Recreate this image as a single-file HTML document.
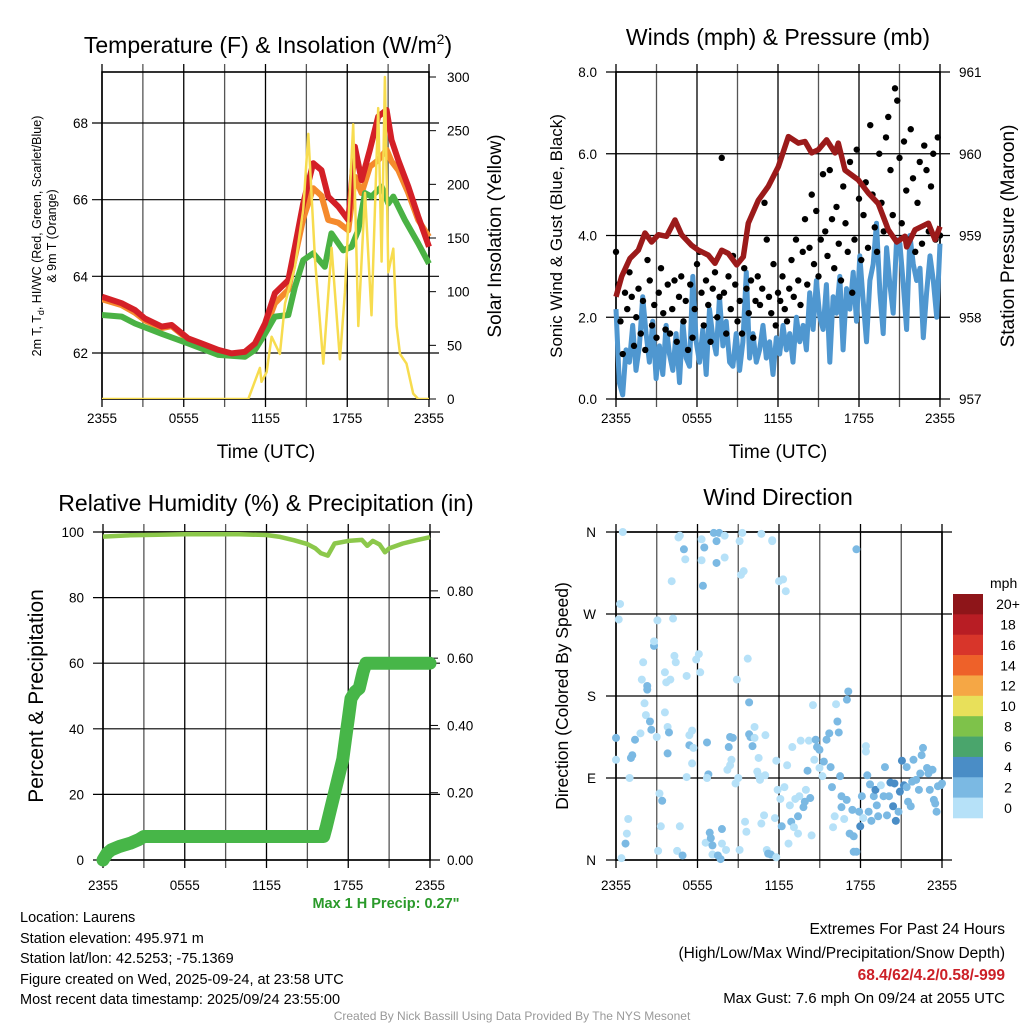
<!DOCTYPE html>
<html><head><meta charset="utf-8"><style>
html,body{margin:0;padding:0;background:#fff;}
svg{display:block;font-family:"Liberation Sans",sans-serif;}
</style></head><body>
<svg id="fig" width="1024" height="1024" viewBox="0 0 1024 1024">
<g font-size="23" text-anchor="middle" fill="#000">
<text x="268" y="53">Temperature (F) &amp; Insolation (W/m<tspan font-size="14" dy="-9">2</tspan><tspan dy="9">)</tspan></text>
<text x="778" y="45">Winds (mph) &amp; Pressure (mb)</text>
<text x="266" y="511">Relative Humidity (%) &amp; Precipitation (in)</text>
<text x="778" y="505">Wind Direction</text>
</g>
<g fill="#000" text-anchor="middle">
<text x="266" y="458" font-size="19">Time (UTC)</text>
<text x="778" y="458" font-size="19">Time (UTC)</text>
<text transform="translate(41,236) rotate(-90)" font-size="12.5">2m T, T<tspan font-size="9" dy="3">d</tspan><tspan dy="-3">, HI/WC (Red, Green, Scarlet/Blue)</tspan></text>
<text transform="translate(56,236) rotate(-90)" font-size="12.5">&amp; 9m T (Orange)</text>
<text transform="translate(501,236) rotate(-90)" font-size="19">Solar Insolation (Yellow)</text>
<text transform="translate(562,236) rotate(-90)" font-size="17">Sonic Wind &amp; Gust (Blue, Black)</text>
<text transform="translate(1014,236) rotate(-90)" font-size="19">Station Pressure (Maroon)</text>
<text transform="translate(43,696) rotate(-90)" font-size="21">Percent &amp; Precipitation</text>
<text transform="translate(568,696) rotate(-90)" font-size="17.5">Direction (Colored By Speed)</text>
</g>
<g id="plots"></g>
<g font-size="14.5" fill="#000">
<text x="386" y="908" font-weight="bold" fill="#2a9a2a" text-anchor="middle">Max 1 H Precip: 0.27"</text>
<text x="20" y="922">Location: Laurens</text>
<text x="20" y="943">Station elevation: 495.971 m</text>
<text x="20" y="963">Station lat/lon: 42.5253; -75.1369</text>
<text x="20" y="984">Figure created on Wed, 2025-09-24, at 23:58 UTC</text>
<text x="20" y="1004">Most recent data timestamp: 2025/09/24 23:55:00</text>
<text x="1005" y="934" font-size="15.5" text-anchor="end">Extremes For Past 24 Hours</text>
<text x="1005" y="958" font-size="15.5" text-anchor="end">(High/Low/Max Wind/Precipitation/Snow Depth)</text>
<text x="1005" y="980" font-size="15.5" font-weight="bold" fill="#cc2027" text-anchor="end">68.4/62/4.2/0.58/-999</text>
<text x="1005" y="1003" font-size="15" text-anchor="end">Max Gust: 7.6 mph On 09/24 at 2055 UTC</text>
<text x="512" y="1020" font-size="12" fill="#999" text-anchor="middle">Created By Nick Bassill Using Data Provided By The NYS Mesonet</text>
</g>
</svg>
<script>
// ---------- data ----------
const xTickLabels = ["2355","0555","1155","1755","2355"];
const tempTicks = [62,64,66,68];
const solarTicks = [0,50,100,150,200,250,300];
const windTicks = [0,2,4,6,8];
const windTickLabels = ["0.0","2.0","4.0","6.0","8.0"];
const presTicks = [957,958,959,960,961];
const rhTicks = [0,20,40,60,80,100];
const precipTicks = [0,0.2,0.4,0.6,0.8];
const precipTickLabels = ["0.00","0.20","0.40","0.60","0.80"];
const dirTicks = [0,90,180,270,360];
const dirTickLabels = ["N","E","S","W","N"];
const legendLabels = ["20+","18","16","14","12","10","8","6","4","2","0"];
const legendColors = ["#8e1519","#b81d24","#d8352a","#ee6129","#f5a745","#e8e05a","#7ec24a","#4aa56c","#4a8dc6","#7bb9e3","#b6e1f8"];

const tHours = [0,1.44,2.42,3.15,4.38,5.11,6.33,7.31,8.54,9.51,10.49,11.23,11.96,12.69,13.67,14.16,14.77,15.5,16.11,16.6,17.34,18.08,18.56,19.05,19.66,20.27,20.89,21.25,21.75,22.48,23.21,24];
const tempRed = [63.47,63.3,63.12,62.9,62.69,62.73,62.38,62.25,62.08,61.99,62.03,62.25,62.77,63.56,63.9,64.77,65.9,66.95,66.77,66.08,65.82,65.47,67.38,66.51,67.3,68.17,68.34,67.56,67.03,66.34,65.56,64.77];
const tempOrange = [63.4,63.25,63.05,62.85,62.65,62.7,62.35,62.2,62.05,61.97,62.0,62.15,62.6,63.3,63.65,64.5,65.5,66.3,66.1,65.47,65.4,65.2,66.6,66.17,66.86,67.03,67.3,67.0,66.77,66.17,65.47,65.03];
const gHours = [0,1.44,2.42,4.38,6.33,8.54,10.49,11.23,11.96,12.69,13.67,14.16,14.77,15.5,16.35,16.84,17.7,18.32,18.81,19.3,19.78,20.52,21.01,21.38,22.23,23.21,24];
const tempGreen = [62.99,62.95,62.77,62.5,62.25,61.95,61.9,62.08,62.5,62.95,62.99,63.72,64.42,64.6,64.25,65.12,64.68,64.77,65.21,66.17,66.08,66.34,65.9,66.08,65.47,64.86,64.33];
const sHours = [0,10.74,11.59,11.71,12.08,12.45,13.06,13.43,14.16,14.77,15.14,15.63,16.24,16.85,17.46,17.83,18.44,18.81,19.3,19.78,20.27,20.52,20.76,21.01,21.38,21.62,21.87,22.35,22.84,23.21,24];
const solar = [0,0,29,16,25,58,42,89,123,176,247,130,33,141,37,99,256,68,192,78,271,128,300,118,140,68,42,33,5,0,0];

const pHours = [0,0.42,1.04,1.65,2.15,2.64,3.14,3.75,4.37,4.86,5.59,6.1,6.84,7.33,7.83,8.32,8.94,9.43,9.8,10.54,11.28,12.02,12.77,13.51,14,14.49,14.99,15.6,16.22,16.47,16.96,17.95,18.69,19.43,20.17,20.79,21.41,21.53,22.15,23.14,23.63,24];
const pressure = [958.25,958.5,958.72,958.82,959.03,958.92,959.01,958.99,959.19,959.01,958.88,958.82,958.76,958.66,958.82,958.78,958.64,958.74,959.15,959.43,959.6,959.84,960.21,960.13,960.15,960.01,960.05,960.17,960.01,960.13,959.8,959.68,959.52,959.39,959.07,958.92,958.99,958.86,959.07,959.15,958.95,959.11];
const windSpeed = [2.2,0.4,0.1,1.2,0.9,1.8,0.7,1.3,2.5,1.6,0.9,1.9,0.5,
1.3,0.6,1.8,1.1,0.7,1.6,0.4,1.9,1.0,0.8,3.0,1.4,
0.9,1.7,0.6,2.2,1.5,1.1,2.5,1.3,1.9,0.9,0.8,1.6,
0.7,1.4,3.1,1.0,1.6,0.9,1.2,1.8,1.0,1.4,0.6,1.5,
1.1,1.8,1.2,1.6,0.9,2.0,1.4,1.8,1.2,2.6,1.7,2.9,
2.0,1.7,2.8,0.9,2.5,2.1,3.0,1.2,2.7,2.2,3.1,1.9,
3.5,2.4,1.4,2.9,3.3,4.3,2.6,1.6,3.7,2.8,2.1,3.9,
3.8,2.8,1.7,4.0,3.3,2.9,3.2,1.5,2.6,3.5,2.9,2.0,3.8];
const windGust = [3.6,2.8,1.9,1.1,2.6,2.2,3.1,2.5,1.3,2.0,2.7,1.6,2.4,1.2,3.4,2.9,1.8,2.3,1.5,2.6,3.2,2.1,1.7,2.8,
1.6,2.2,2.9,1.4,2.5,3.0,1.9,2.4,1.2,2.8,1.5,2.2,3.3,3.6,2.6,1.8,2.9,2.3,1.4,2.7,3.1,2.0,2.5,5.9,
2.6,1.6,3.0,2.2,3.5,2.8,1.9,2.4,1.6,3.2,2.7,2.1,2.9,1.5,2.4,3.0,2.3,2.7,4.8,3.9,2.5,2.1,3.3,1.8,
2.6,2.4,3.0,2.2,1.9,2.7,3.4,2.5,3.9,2.9,2.3,3.6,4.4,2.8,3.7,5.0,3.3,4.6,3.0,3.9,5.5,4.1,3.5,5.6,
4.4,3.2,4.7,3.8,2.9,5.2,4.3,3.6,5.8,2.6,3.9,6.1,4.9,3.4,4.5,5.3,3.7,6.7,5.0,4.2,3.6,6.0,4.8,4.1,
6.4,6.9,5.6,4.5,7.6,7.3,5.9,4.3,6.3,5.1,3.9,6.6,5.4,3.6,4.8,5.8,3.8,6.2,5.6,4.1,5.2,6.0,3.9,6.4,4.0];
const rhHours = [0,2,6,10,12,13,14,15,15.6,16,16.5,17,18,19,19.4,19.8,20.3,20.7,21,22,23,24];
const rh = [98.6,99,99.3,99.3,99.1,98.5,97.5,96.3,95,93.5,92.8,96.5,97.3,97.6,95.8,97.3,96.2,93.8,95,96.5,97.5,98.4];
const prHours = [0,0.3,0.6,1.2,2.0,2.6,3.0,16.2,16.4,16.7,17.0,17.3,17.6,17.8,18.0,18.2,18.5,18.8,19.1,19.3,24];
const precip = [0,0.02,0.03,0.04,0.05,0.06,0.07,0.07,0.1,0.15,0.2,0.25,0.3,0.36,0.42,0.48,0.5,0.51,0.56,0.585,0.585];
const wdHour = [0.5,0.3,0.2,0,0,1,0.9,0.8,0.7,0.4,1.4,1.2,1.1,1.8,2,1.9,2.3,2.3,2.1,2.2,2.5,2.6,2.8,2.8,3,3.05,3.2,3.4,3.3,3.1,3.6,3.7,4,3.6,3.8,3.9,3.8,4.1,4.2,4.3,4.4,4.5,4.7,4.9,4.6,4.7,5,5.1,5.2,5.4,5.4,5.6,5.7,5.6,5.2,5.9,6.1,6.2,6.3,6.3,6.5,6.4,6.7,6.8,6.7,6.6,6.9,6.98,7.1,7.1,7.2,7.6,7.4,7.4,8,8,7.5,7.7,7.8,7.8,8.1,8.2,8.4,8.5,8.3,8.4,8.6,8.8,8.9,9.1,9.3,9.4,9.2,9,9.1,9.5,9.6,9.7,9.8,9.8,9.9,10.05,10.2,10.2,10.4,10.5,10.6,10.98,10.5,10.7,11,10.7,10.9,11.1,11.2,11.4,11.5,11.5,11.8,11.7,11.8,11.9,12.1,12,12.3,12.5,12.2,12.4,12.6,12.7,12.8,12.9,12.98,13.1,13.2,13.4,13.4,13.5,13.6,13.8,13.9,13.98,14.1,14.2,14.3,14.4,14.5,14.6,14.7,14.8,14.98,14.98,15.2,15.3,15.5,15.7,15.8,15.9,15.98,16.1,16.2,16.3,16.4,16.5,16.6,16.6,16.8,16.98,17,17.1,17.2,17.4,17.5,17.5,17.7,17.7,17.9,17.98,18.1,18.2,18.4,18.4,18.5,18.6,18.7,18.8,18.98,19.1,19.2,19.3,19.5,19.7,19.8,19.95,20.1,20.2,20.4,20.5,20.6,20.8,20.9,21.05,21.2,21.4,21.4,21.5,21.7,21.8,21.9,22.1,22.3,22.5,22.6,22.4,22.9,23,23.3,23.1,23.4,23.5,23.6,23.7,23.9,24];
const wdDir = [360,281,264,134,110,90,45,29,18,2,132,115,112,139,217,198,191,187,172,159,152,143,235,240,135,263,73,65,37,10,206,195,198,162,146,140,117,306,265,224,217,10,37,5,354,356,341,330,202,137,126,106,123,142,91,220,226,206,352,329,343,301,129,94,90,19,30,24,16,6,359,359,350,326,356,332,5,1,34,18,11,99,104,110,124,135,134,84,198,350,359,317,313,90,11,42,31,221,173,138,135,125,146,134,97,93,88,93,112,358,137,40,49,11,7,6,351,350,3,46,109,77,67,306,308,295,37,80,104,18,60,42,124,36,67,29,48,70,131,58,64,77,98,131,68,27,170,110,132,124,101,121,92,108,132,139,102,80,36,48,171,152,140,92,70,58,45,66,176,185,29,55,26,9,9,341,53,37,70,46,125,119,93,53,83,43,70,77,60,48,82,70,102,49,70,85,59,84,43,53,75,109,82,80,102,64,59,86,110,88,77,115,123,95,101,95,99,77,66,62,53,81,82,84];
const wdSpeed = [1,1,1,3,1,1,1,1,3,1,3,3,3,1,1,1,3,3,1,1,3,3,3,1,1,1,1,3,1,1,1,1,1,1,1,3,3,1,1,1,1,1,1,3,1,1,3,1,1,1,3,1,1,1,1,1,1,1,1,1,3,3,3,3,1,1,3,3,3,1,3,3,3,3,1,1,3,3,3,1,1,1,1,1,3,3,3,1,1,1,1,1,1,1,1,1,1,1,3,3,3,3,1,1,1,1,1,1,1,1,1,1,1,1,3,3,1,1,1,1,1,1,1,1,1,1,3,1,1,1,1,3,1,1,1,1,3,1,1,3,3,1,3,1,3,1,1,1,3,3,1,3,1,3,3,3,3,3,1,1,1,3,3,3,3,3,1,3,3,3,3,3,3,3,3,3,3,5,3,1,1,1,3,3,3,3,3,5,3,3,1,3,3,3,3,5,5,5,5,3,5,5,5,3,3,3,3,3,3,3,3,3,3,3,3,3,3,3,3,3,3,3,3,3,3,5];

// ---------- helpers ----------
const NS="http://www.w3.org/2000/svg";
const root=document.getElementById('plots');
function mk(tag,attrs,parent){const e=document.createElementNS(NS,tag);for(const k in attrs)e.setAttribute(k,attrs[k]);(parent||root).appendChild(e);return e;}
function txt(s,attrs,parent){const e=mk('text',attrs,parent);e.textContent=s;return e;}
function lin(d0,d1,r0,r1){return v=>r0+(v-d0)*(r1-r0)/(d1-d0);}
function pts(xs,ys,fx,fy){return xs.map((h,i)=>fx(h).toFixed(1)+','+fy(ys[i]).toFixed(1)).join(' ');}

function frame(L,T,R,B,name,gridYs,gridX){
  const g=mk('g',{});
  
  
  if(gridX){for(let i=0;i<=8;i++){const x=L+(R-L)*i/8;const l=mk('line',{x1:x,y1:T-8,x2:x,y2:B+8,stroke:(i%2?'#555':'#000'),'stroke-width':1.3},g);
    }}
  gridYs.forEach(y=>{const l=mk('line',{x1:L-10,y1:y,x2:R+10,y2:y,stroke:'#000','stroke-width':1.2},g);
    });
  const r=mk('rect',{x:L,y:T,width:R-L,height:B-T,fill:'none',stroke:'#000','stroke-width':1.6},g);
  
  return g;
}
function xLabels(L,R,y,name){
  xTickLabels.forEach((s,i)=>{const t=txt(s,{x:L+(R-L)*i/4,y:y,'font-size':13.5,'text-anchor':'middle'});
    });
}

// ---------- Panel 1: temperature ----------
(function(){
  const L=102,R=429,T=72,B=399;
  const x=lin(0,24,L,R), yT=lin(62,68,353,123), yS=lin(0,300,399,77);
  frame(L,T,R,B,'temp-panel',tempTicks.map(yT),true);
  tempTicks.forEach(v=>{const t=txt(String(v),{x:L-14,y:yT(v)+5,'font-size':13.5,'text-anchor':'end'});
    });
  solarTicks.forEach(v=>{const l=mk('line',{x1:R,y1:yS(v),x2:R+7,y2:yS(v),stroke:'#000'});
    
    const t=txt(String(v),{x:R+18,y:yS(v)+5,'font-size':13.5});
    });
  xLabels(L,R,423,'temp');
  const cp=mk('clipPath',{id:'c1'});mk('rect',{x:L,y:T-8,width:R-L+4,height:B-T+8},cp);
  const g=mk('g',{'clip-path':'url(#c1)'});
  
  let p=mk('polyline',{points:pts(tHours,tempOrange,x,yT),fill:'none',stroke:'#f58a2c','stroke-width':6,'stroke-linejoin':'round'},g);
  
  p=mk('polyline',{points:pts(gHours,tempGreen,x,yT),fill:'none',stroke:'#4ab244','stroke-width':6,'stroke-linejoin':'round'},g);
  
  p=mk('polyline',{points:pts(tHours,tempRed,x,yT),fill:'none',stroke:'#d42027','stroke-width':6,'stroke-linejoin':'round'},g);
  
  p=mk('polyline',{points:pts(sHours,solar,x,yS),fill:'none',stroke:'#f7dc4f','stroke-width':2.5,'stroke-linejoin':'round'},g);
  
})();

// ---------- Panel 2: winds ----------
(function(){
  const L=616,R=940,T=72,B=399;
  const x=lin(0,24,L,R), yW=lin(0,8,399,72), yP=lin(957,961,399,72);
  frame(L,T,R,B,'wind-panel',windTicks.map(yW),true);
  windTicks.forEach((v,i)=>{const t=txt(windTickLabels[i],{x:L-19,y:yW(v)+5,'font-size':13.5,'text-anchor':'end'});
    });
  presTicks.forEach(v=>{const t=txt(String(v),{x:R+19,y:yP(v)+5,'font-size':13.5});
    });
  xLabels(L,R,423,'wind');
  const g=mk('g',{});
  
  const wh=windSpeed.map((v,i)=>i*24/(windSpeed.length-1));
  let p=mk('polyline',{points:pts(wh,windSpeed,x,yW),fill:'none',stroke:'#4f97d0','stroke-width':5,'stroke-linejoin':'round'},g);
  
  windGust.forEach((v,i)=>{const c=mk('circle',{cx:x(i*24/(windGust.length-1)),cy:yW(v),r:3.2,fill:'#000'},g);
    });
  p=mk('polyline',{points:pts(pHours,pressure,x,yP),fill:'none',stroke:'#9b1a1a','stroke-width':5.5,'stroke-linejoin':'round'},g);
  
})();

// ---------- Panel 3: RH & precip ----------
(function(){
  const L=103,R=430,T=532,B=860;
  const x=lin(0,24,L,R), yR=lin(0,100,860,532), yPr=lin(0,0.975,860,532);
  frame(L,T,R,B,'rh-panel',rhTicks.map(yR),true);
  rhTicks.forEach(v=>{const t=txt(String(v),{x:L-19,y:yR(v)+5,'font-size':13.5,'text-anchor':'end'});
    });
  precipTicks.forEach((v,i)=>{const l=mk('line',{x1:R,y1:yPr(v),x2:R+8,y2:yPr(v),stroke:'#000'});
    
    const t=txt(precipTickLabels[i],{x:R+17,y:yPr(v)+5,'font-size':13.5});
    });
  xLabels(L,R,890,'rh');
  const g=mk('g',{});
  
  let p=mk('polyline',{points:pts(rhHours,rh,x,yR),fill:'none',stroke:'#8cc84b','stroke-width':4.5,'stroke-linejoin':'round'},g);
  
  p=mk('polyline',{points:pts(prHours,precip,x,yPr),fill:'none',stroke:'#47b648','stroke-width':13,'stroke-linejoin':'round','stroke-linecap':'round'},g);
  
})();

// ---------- Panel 4: direction ----------
(function(){
  const L=616,R=942,T=532,B=860;
  const x=lin(0,24,L,R), yD=lin(0,360,860,532);
  frame(L,T,R,B,'direction-panel',dirTicks.map(yD),true);
  dirTicks.forEach((v,i)=>{const t=txt(dirTickLabels[i],{x:L-20,y:yD(v)+5,'font-size':13.5,'text-anchor':'end'});
    });
  xLabels(L,R,890,'direction');
  const g=mk('g',{});
  
  function col(s){return s>=4?legendColors[8]:(s>=2?legendColors[9]:legendColors[10]);}
  wdHour.forEach((h,i)=>{const c=mk('circle',{cx:x(h),cy:yD(wdDir[i]),r:4,fill:col(wdSpeed[i])},g);
    });
  const lg=mk('g',{});
  
  const t0=txt('mph',{x:990,y:588,'font-size':14},lg);
  
  const bh=(818-594)/legendColors.length;
  legendColors.forEach((c,i)=>{const r=mk('rect',{x:953,y:594+i*bh,width:30,height:bh+0.3,fill:c},lg);
    
    const t=txt(legendLabels[i],{x:1008,y:594+i*bh+bh/2+5,'font-size':14,'text-anchor':'middle'},lg);
    });
})();
</script>
</body></html>
